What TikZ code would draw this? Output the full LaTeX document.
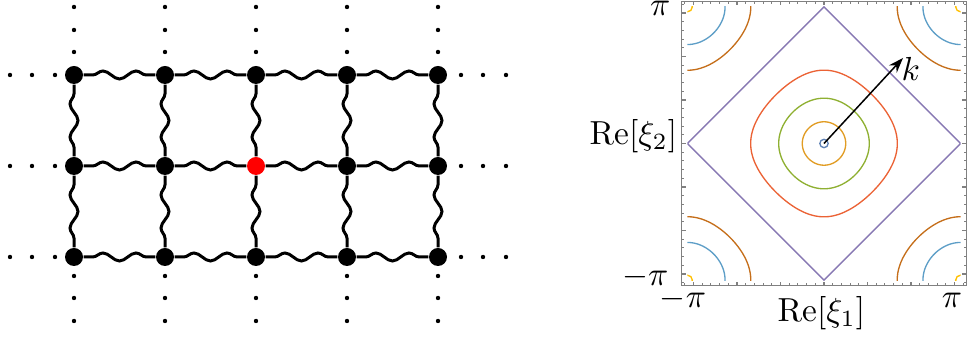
\documentclass[tikz,border=0pt]{standalone}
\usepackage{amsmath,amssymb,amsfonts}
\usepackage{xcolor}
\usepackage{tikz}
\usetikzlibrary{decorations.pathmorphing,arrows.meta}

\definecolor{lvlA}{rgb}{0.368,0.507,0.710}
\definecolor{lvlB}{rgb}{0.881,0.611,0.142}
\definecolor{lvlC}{rgb}{0.560,0.692,0.195}
\definecolor{lvlD}{rgb}{0.923,0.386,0.209}
\definecolor{lvlE}{rgb}{0.528,0.471,0.701}
\definecolor{lvlF}{rgb}{0.772,0.432,0.102}
\definecolor{lvlG}{rgb}{0.364,0.619,0.782}
\definecolor{lvlH}{rgb}{1.000,0.750,0.000}

% closed level line cos x + cos y = #1 around the origin
\newcommand{\isoline}[2]{%
  \pgfmathsetmacro{\xd}{rad(acos(#1/2))}%
  \draw [contour, #2] plot[domain=-\xd:\xd, samples=30] (\x,{rad(acos(#1-cos(\x r)))})
    -- plot[domain=\xd:-\xd, samples=30] ({rad(acos(#1-cos(\x r)))},\x)
    -- plot[domain=\xd:-\xd, samples=30] (\x,{-rad(acos(#1-cos(\x r)))})
    -- plot[domain=-\xd:\xd, samples=30] ({-rad(acos(#1-cos(\x r)))},\x) -- cycle;}

\begin{document}
\begin{tikzpicture}[x=0.3pt, y=-0.3pt, node distance=27.3pt, font=\fontsize{9.7}{11}\selectfont]
\tikzstyle{site} = [circle, fill=black, minimum size=5.4pt, inner sep=0pt]
\tikzstyle{wavy} = [line width=0.9pt, decorate, decoration={snake, amplitude=1.2pt, segment length=9.9pt, pre length=2.7pt, post length=2.4pt}]
\tikzstyle{arrow} = [line width=0.45pt, -{Stealth[length=4.5pt, width=3.2pt]}]
\tikzstyle{contour} = [line width=0.4pt]
\tikzstyle{tick} = [line width=0.35pt, black!50]

\useasboundingbox (0,0) rectangle (967,337);

% lattice
\node (s11) [site] at (74,75) {};
\node (s12) [site, right of=s11] {};
\node (s13) [site, right of=s12] {};
\node (s14) [site, right of=s13] {};
\node (s15) [site, right of=s14] {};
\node (s21) [site, below of=s11] {};
\node (s22) [site, right of=s21] {};
\node (s23) [site, right of=s22, fill=red] {};
\node (s24) [site, right of=s23] {};
\node (s25) [site, right of=s24] {};
\node (s31) [site, below of=s21] {};
\node (s32) [site, right of=s31] {};
\node (s33) [site, right of=s32] {};
\node (s34) [site, right of=s33] {};
\node (s35) [site, right of=s34] {};

\foreach \r in {1,2,3} {
  \draw [wavy] (s\r1) -- (s\r2);
  \draw [wavy] (s\r2) -- (s\r3);
  \draw [wavy] (s\r3) -- (s\r4);
  \draw [wavy] (s\r4) -- (s\r5);
}
\foreach \c in {1,...,5} {
  \draw [wavy] (s2\c) -- (s1\c);
  \draw [wavy] (s3\c) -- (s2\c);
}

\foreach \x in {74,165,256,347,438}
  \foreach \y in {7,30,52,276,298,321}
    \fill (\x,\y) circle (0.66pt);
\foreach \y in {75,166,257}
  \foreach \x in {10,32,55,461,483,506}
    \fill (\x,\y) circle (0.66pt);

% level lines
\begin{scope}[shift={(824,143.5)}, x=13.05pt, y=13.05pt]
  \draw [tick] (-3.267,-3.267) rectangle (3.267,3.267);
  \foreach \i in {-16,...,16} {
    \pgfmathsetmacro{\t}{\i/5}
    \pgfmathsetmacro{\tl}{ifthenelse(mod(\i,5)==0,0.09,0.05)}
    \draw [tick] (\t,-3.267) -- ++(0,\tl);
    \draw [tick] (\t,3.267) -- ++(0,-\tl);
    \draw [tick] (-3.267,\t) -- ++(\tl,0);
    \draw [tick] (3.267,\t) -- ++(-\tl,0);
  }
  \begin{scope}
    \clip (-3.1416,-3.1416) rectangle (3.1416,3.1416);
    \draw [contour, lvlA] (0,0) circle (0.096);
    \isoline{1.878}{lvlB}
    \isoline{1.505}{lvlC}
    \isoline{0.885}{lvlD}
    \draw [contour, lvlE] (0,3.1416) -- (3.1416,0) -- (0,-3.1416) -- (-3.1416,0) -- cycle;
    \foreach \cx/\cy in {-3.1416/-3.1416, -3.1416/3.1416, 3.1416/-3.1416, 3.1416/3.1416} {
      \begin{scope}[shift={(\cx,\cy)}]
        \isoline{1.112}{lvlF}
        \isoline{1.647}{lvlG}
        \draw [contour, lvlH] (0,0) circle (0.115);
      \end{scope}
    }
  \end{scope}
\end{scope}

\coordinate (origin) at (824,143.5);
\coordinate (ktip) at (903,58);
\draw [arrow] (origin) -- (ktip);
\node (klabel) [anchor=base west, inner sep=0pt] at (901,81) {$k$};

\node (ylabel) [anchor=base west, inner sep=0pt] at (589,145) {$\mathrm{Re}[\xi_2]$};
\node (xlabel) [anchor=base west, inner sep=0pt] at (777,322) {$\mathrm{Re}[\xi_1]$};
\node (ytop) [anchor=base east, inner sep=0pt] at (671,16) {$\pi$};
\node (ybot) [anchor=base east, inner sep=0pt] at (669,286) {$-\pi$};
\node (xleft) [anchor=base, inner sep=0pt] at (683,308) {$-\pi$};
\node (xright) [anchor=base, inner sep=0pt] at (952,308) {$\pi$};

\end{tikzpicture}
\end{document}
